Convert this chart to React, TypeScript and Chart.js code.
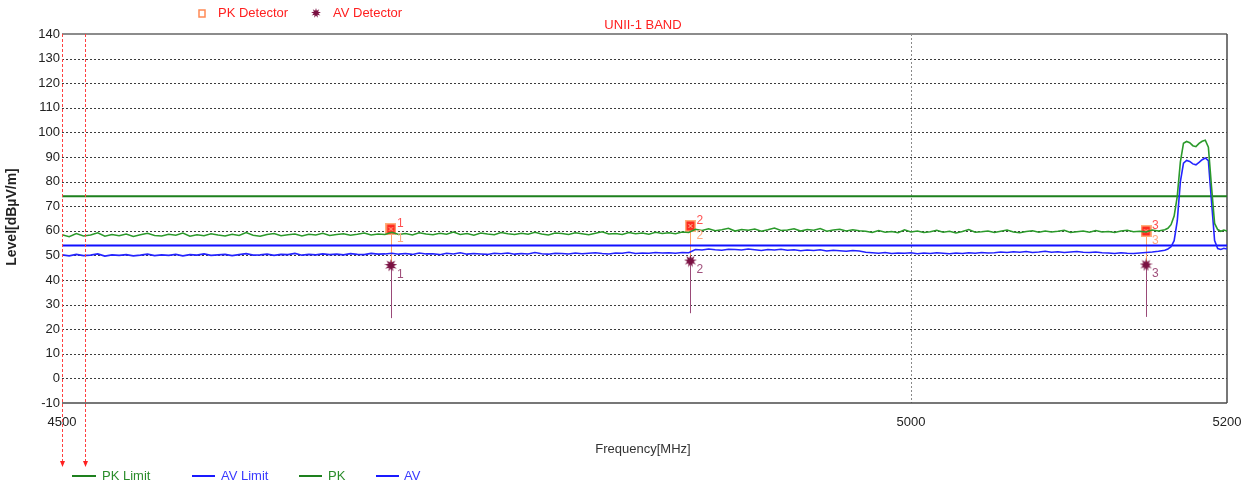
import React, { useEffect, useRef } from 'react';
import { Chart, registerables } from 'chart.js';

Chart.register(...registerables);

const FONT = '"Liberation Sans", Arial, sans-serif';

// Sweep frequencies (MHz)
const freqMHz = [
  4500, 4504, 4508, 4512, 4516, 4520, 4524, 4528, 4532, 4536,
  4540, 4544, 4548, 4552, 4556, 4560, 4564, 4568, 4572, 4576,
  4580, 4584, 4588, 4592, 4596, 4600, 4604, 4608, 4612, 4616,
  4620, 4624, 4628, 4632, 4636, 4640, 4644, 4648, 4652, 4656,
  4660, 4664, 4668, 4672, 4676, 4680, 4684, 4688, 4692, 4696,
  4700, 4704, 4708, 4712, 4716, 4720, 4724, 4728, 4732, 4736,
  4740, 4744, 4748, 4752, 4756, 4760, 4764, 4768, 4772, 4776,
  4780, 4784, 4788, 4792, 4796, 4800, 4804, 4808, 4812, 4816,
  4820, 4824, 4828, 4832, 4836, 4840, 4844, 4848, 4852, 4856,
  4860, 4864, 4868, 4872, 4876, 4880, 4884, 4888, 4892, 4896,
  4900, 4904, 4908, 4912, 4916, 4920, 4924, 4928, 4932, 4936,
  4940, 4944, 4948, 4952, 4956, 4960, 4964, 4968, 4972, 4976,
  4980, 4984, 4988, 4992, 4996, 5000, 5004, 5008, 5012, 5016,
  5020, 5024, 5028, 5032, 5036, 5040, 5044, 5048, 5052, 5056,
  5060, 5064, 5068, 5072, 5076, 5080, 5084, 5088, 5092, 5096,
  5100, 5104, 5108, 5112, 5116, 5120, 5124, 5128, 5132, 5136,
  5140, 5144, 5148, 5152, 5156, 5160,
  5162, 5164, 5166, 5168, 5170, 5172, 5174, 5176, 5178, 5180,
  5182, 5184, 5186, 5188, 5190, 5192, 5194, 5196, 5198, 5200,
];

// PK trace (dBµV/m)
const pkTrace = [
  58.4, 57.6, 58.9, 57.9, 58.3, 59.2, 57.8, 58.5, 58.0, 58.7,
  57.7, 58.4, 59.0, 58.1, 57.9, 58.6, 58.2, 59.1, 57.8, 58.4,
  58.0, 58.8, 58.3, 57.9, 58.6, 58.1, 59.3, 58.2, 57.8, 58.5,
  58.9, 58.0, 58.4, 58.7, 57.9, 58.6, 58.3, 59.0, 58.1, 58.5,
  58.8, 58.2, 58.6, 59.1, 58.3, 58.7, 58.5,
  59.4, 58.5, 58.9, 58.3, 59.2, 58.7, 58.4, 59.0, 58.6, 59.5,
  58.5, 58.9, 58.2, 59.1, 58.7, 58.4, 59.3, 58.8, 58.5, 59.0,
  58.6, 59.4, 58.7, 58.3, 59.1, 58.9, 58.5, 59.2, 58.8, 58.4,
  59.0, 59.6, 58.7, 58.9, 58.5, 59.3, 58.8, 59.1, 58.6, 59.4,
  58.9, 59.2, 58.8, 59.5, 59.3,
  60.6, 60.1, 60.8, 60.0, 60.4, 61.0, 59.9, 60.5, 60.2, 60.7,
  59.8, 60.4, 61.1, 60.1, 60.3, 60.8, 59.9, 60.5, 60.2, 60.9,
  59.8, 60.3, 60.6, 59.9, 60.4, 60.0,
  59.8, 59.3, 60.1, 59.4, 59.7, 59.2, 60.4, 59.5, 59.9, 59.3,
  59.6, 60.2, 59.4, 59.8, 59.1, 59.7, 60.5, 59.4, 59.6, 59.9,
  59.3, 59.8, 60.3, 59.5, 59.2, 59.7, 60.0, 59.4, 59.9, 59.5,
  59.8, 60.2, 59.3, 59.6, 59.9, 59.4, 60.1, 59.5, 59.7, 59.3,
  59.9, 60.2, 59.6, 59.8, 59.5, 60.3, 59.9, 60.4,
  61.0, 62.5, 66.0, 74.0, 88.0, 95.6, 96.3, 95.8, 94.6, 94.2,
  95.5, 96.4, 96.8, 94.0, 78.0, 63.0, 60.5, 59.8, 60.3, 59.9,
];

// AV trace (dBµV/m)
const avTrace = [
  50.2, 49.8, 50.4, 49.9, 50.1, 50.6, 49.7, 50.2, 50.0, 50.3,
  49.8, 50.1, 50.5, 49.9, 50.2, 50.0, 50.4, 49.8, 50.3, 50.1,
  50.6, 50.0, 50.2, 50.4, 49.9, 50.3, 50.7, 50.1, 50.2, 50.5,
  50.0, 50.4, 50.3, 50.8, 50.1, 50.4, 50.2, 50.6, 50.3, 50.5,
  50.2, 50.7, 50.4, 50.3, 50.8, 50.5, 50.6,
  50.9, 50.5, 50.8, 50.4, 51.0, 50.6, 50.7, 50.3, 50.9, 50.6,
  51.1, 50.5, 50.8, 50.6, 50.4, 50.9, 50.7, 51.0, 50.5, 50.8,
  50.6, 51.2, 50.7, 50.5, 50.9, 50.8, 50.6, 51.0, 50.7, 50.9,
  51.1, 50.8, 50.6, 51.0, 50.9, 51.3, 50.8, 51.0, 50.9, 51.2,
  51.0, 51.1, 50.9, 51.2, 51.1,
  52.4, 52.2, 52.6, 52.3, 52.1, 52.5, 52.4, 52.2, 52.6, 52.3,
  52.0, 52.4, 52.2, 52.5, 52.1, 52.3, 51.9, 52.2, 52.0, 52.3,
  51.8, 52.1, 51.9, 51.7, 52.0, 51.8,
  51.3, 51.1, 50.9, 51.2, 50.8, 51.0, 50.9, 51.1, 50.7, 51.0,
  50.8, 51.1, 50.9, 50.7, 51.0, 50.8, 51.1, 50.9, 51.2, 51.0, 51.1,
  51.4, 51.2, 51.5, 51.3, 51.6, 51.2, 51.4, 51.7, 51.3, 51.5,
  51.2, 51.4, 51.6, 51.3, 51.2, 51.4, 51.1,
  51.0, 50.8, 51.1, 50.9, 50.8, 51.0, 51.2, 51.4, 51.7, 52.1,
  52.6, 53.5, 56.0, 64.0, 80.0, 87.5, 88.6, 88.2, 87.2, 86.8,
  87.8, 88.9, 89.6, 88.5, 72.0, 56.0, 52.8, 52.4, 52.9, 52.6,
];

// Limits
const limitFreqs = [4500, 5200];
const pkLimitLevels = [74, 74];
const avLimitLevels = [54, 54];

// Markers
const markerIds = ['1', '2', '3'];
const markerFreqs = [4687.5, 4865, 5148];
const markerPk = [60.7, 62.0, 59.9];
const markerAv = [45.9, 47.7, 46.1];
const markerStemBottom = [24.5, 26.5, 25.0];

// Display lines (red dashed verticals)
const displayLineFreqs = [4500, 4513];

// Axes
const xTicks = [4500, 5000, 5200];
const yTicks = [-10, 0, 10, 20, 30, 40, 50, 60, 70, 80, 90, 100, 110, 120, 130, 140];

const zip = (xs: number[], ys: number[]) => {
  const n = Math.min(xs.length, ys.length);
  const out: { x: number; y: number }[] = [];
  for (let i = 0; i < n; i++) out.push({ x: xs[i], y: ys[i] });
  return out;
};

function makeStar(size: number, color: string) {
  const c = document.createElement('canvas');
  c.width = size;
  c.height = size;
  const g = c.getContext('2d')!;
  const cx = size / 2, cy = size / 2, rO = size / 2, rI = size / 4.2;
  const n = 9;
  g.beginPath();
  for (let k = 0; k < 2 * n; k++) {
    const r = k % 2 === 0 ? rO : rI;
    const a = (Math.PI * k) / n - Math.PI / 2;
    const px = cx + r * Math.cos(a);
    const py = cy + r * Math.sin(a);
    if (k === 0) g.moveTo(px, py);
    else g.lineTo(px, py);
  }
  g.closePath();
  g.fillStyle = color;
  g.fill();
  return c;
}

function makePkMarker() {
  const c = document.createElement('canvas');
  c.width = 11;
  c.height = 12;
  const g = c.getContext('2d')!;
  g.fillStyle = '#ffb07c';
  g.fillRect(0, 0, 11, 12);
  g.fillStyle = '#ff2a1e';
  g.fillRect(1.5, 1.5, 8, 9);
  g.strokeStyle = '#ffc8a8';
  g.lineWidth = 1;
  g.beginPath();
  g.moveTo(3.5, 4);
  g.lineTo(7.5, 8);
  g.moveTo(7.5, 4);
  g.lineTo(3.5, 8);
  g.stroke();
  return c;
}

function hLine(ctx: CanvasRenderingContext2D, x1: number, x2: number, y: number) {
  ctx.beginPath();
  ctx.moveTo(x1, y);
  ctx.lineTo(x2, y);
  ctx.stroke();
}
function vLine(ctx: CanvasRenderingContext2D, x: number, y1: number, y2: number) {
  ctx.beginPath();
  ctx.moveTo(x, y1);
  ctx.lineTo(x, y2);
  ctx.stroke();
}

const decorPlugin = {
  id: 'decor',
  beforeDatasetsDraw(chart: any) {
    const { ctx, chartArea, scales } = chart;
    const { left, right, top, bottom } = chartArea;
    const xs = scales.x, ys = scales.y;
    ctx.save();
    ctx.lineWidth = 1;
    ctx.strokeStyle = '#3c3c3c';
    ctx.setLineDash([2, 2]);
    for (const v of yTicks) {
      if (v === yTicks[0] || v === yTicks[yTicks.length - 1]) continue;
      const py = Math.round(ys.getPixelForValue(v)) + 0.5;
      hLine(ctx, left, right, py);
    }
    ctx.strokeStyle = '#8a8a8a';
    for (const f of xTicks) {
      if (f === xTicks[0] || f === xTicks[xTicks.length - 1]) continue;
      const px = Math.round(xs.getPixelForValue(f)) + 0.5;
      vLine(ctx, px, top, bottom);
    }
    ctx.setLineDash([]);
    ctx.strokeStyle = '#8c8c8c';
    ctx.lineWidth = 2;
    hLine(ctx, left, right, top);
    ctx.strokeStyle = '#4a4a4a';
    ctx.lineWidth = 1.5;
    hLine(ctx, left, right, bottom);
    vLine(ctx, right, top, bottom);
    for (let i = 0; i < markerFreqs.length; i++) {
      const px = Math.round(xs.getPixelForValue(markerFreqs[i])) + 0.5;
      ctx.lineWidth = 1;
      ctx.strokeStyle = '#ffa066';
      vLine(ctx, px, ys.getPixelForValue(markerPk[i]), ys.getPixelForValue(markerAv[i]));
      ctx.strokeStyle = '#9a4a78';
      vLine(ctx, px, ys.getPixelForValue(markerAv[i]), ys.getPixelForValue(markerStemBottom[i]));
    }
    ctx.restore();
  },
  afterDatasetsDraw(chart: any) {
    const { ctx, chartArea, scales } = chart;
    const { top } = chartArea;
    const xs = scales.x, ys = scales.y;
    ctx.save();
    ctx.strokeStyle = '#ff4040';
    ctx.fillStyle = '#ff2020';
    ctx.lineWidth = 1;
    for (const f of displayLineFreqs) {
      const px = Math.round(xs.getPixelForValue(f)) + 0.5;
      ctx.setLineDash([3, 2]);
      vLine(ctx, px, top, 461);
      ctx.setLineDash([]);
      ctx.beginPath();
      ctx.moveTo(px - 2.5, 461);
      ctx.lineTo(px + 2.5, 461);
      ctx.lineTo(px, 467);
      ctx.closePath();
      ctx.fill();
    }
    ctx.font = `12px ${FONT}`;
    ctx.textAlign = 'left';
    ctx.textBaseline = 'middle';
    for (let i = 0; i < markerFreqs.length; i++) {
      const px = xs.getPixelForValue(markerFreqs[i]);
      const pyP = ys.getPixelForValue(markerPk[i]);
      const pyA = ys.getPixelForValue(markerAv[i]);
      ctx.fillStyle = '#ff5050';
      ctx.fillText(markerIds[i], px + 6, pyP - 5);
      ctx.fillStyle = '#ffaa80';
      ctx.fillText(markerIds[i], px + 6, pyP + 10);
      ctx.fillStyle = '#a0507c';
      ctx.fillText(markerIds[i], px + 6, pyA + 9);
    }
    ctx.restore();
  },
  afterDraw(chart: any) {
    const { ctx } = chart;
    const star = chart.$legendStar;
    ctx.save();
    ctx.strokeStyle = '#ff8a55';
    ctx.lineWidth = 1.5;
    ctx.strokeRect(199, 10, 6, 7);
    if (star) ctx.drawImage(star, 311, 8);
    ctx.font = `13px ${FONT}`;
    ctx.textBaseline = 'middle';
    ctx.textAlign = 'left';
    ctx.fillStyle = '#ff2020';
    ctx.fillText('PK Detector', 218, 13);
    ctx.fillText('AV Detector', 333, 13);
    ctx.textAlign = 'center';
    ctx.fillText('UNII-1 BAND', 643, 25);
    ctx.fillStyle = '#333333';
    ctx.fillText('Frequency[MHz]', 643, 449);
    ctx.save();
    ctx.translate(12, 217);
    ctx.rotate(-Math.PI / 2);
    ctx.font = `bold 14px ${FONT}`;
    ctx.fillStyle = '#222222';
    ctx.fillText('Level[dBµV/m]', 0, 0);
    ctx.restore();
    const items = [
      { x1: 72, x2: 96, tx: 102, label: 'PK Limit', color: '#1e801e', text: '#2a8c2a' },
      { x1: 192, x2: 215, tx: 221, label: 'AV Limit', color: '#1a1aff', text: '#3a3aff' },
      { x1: 299, x2: 322, tx: 328, label: 'PK', color: '#1e801e', text: '#2a8c2a' },
      { x1: 376, x2: 399, tx: 404, label: 'AV', color: '#1a1aff', text: '#3a3aff' },
    ];
    ctx.textAlign = 'left';
    ctx.font = `13px ${FONT}`;
    for (const it of items) {
      ctx.strokeStyle = it.color;
      ctx.lineWidth = 2;
      hLine(ctx, it.x1, it.x2, 476);
      ctx.fillStyle = it.text;
      ctx.fillText(it.label, it.tx, 476);
    }
    ctx.restore();
  },
};

export default function App() {
  const ref = useRef<HTMLCanvasElement>(null);
  useEffect(() => {
    if (!ref.current) return;
    const avStar = makeStar(13, '#7a1042');
    const legendStar = makeStar(10, '#7a1042');
    const pkMark = makePkMarker();
    const chart = new Chart(ref.current, {
      type: 'line',
      data: {
        datasets: [
          { label: 'PK', data: zip(freqMHz, pkTrace), borderColor: '#2b9a2b', borderWidth: 1.6, pointRadius: 0, tension: 0 },
          { label: 'AV', data: zip(freqMHz, avTrace), borderColor: '#2424ff', borderWidth: 1.6, pointRadius: 0, tension: 0 },
          { label: 'PK Limit', data: zip(limitFreqs, pkLimitLevels), borderColor: '#1e801e', borderWidth: 2, pointRadius: 0 },
          { label: 'AV Limit', data: zip(limitFreqs, avLimitLevels), borderColor: '#1010ff', borderWidth: 2, pointRadius: 0 },
          { label: 'AV Detector', data: zip(markerFreqs, markerAv), showLine: false, pointStyle: avStar as any, pointRadius: 6 },
          { label: 'PK Detector', data: zip(markerFreqs, markerPk), showLine: false, pointStyle: pkMark as any, pointRadius: 6 },
        ],
      },
      options: {
        animation: false,
        responsive: false,
        layout: { padding: { top: 34, right: 23, bottom: 0, left: 0 } },
        plugins: {
          legend: { display: false },
          title: { display: false },
          tooltip: { enabled: false },
        },
        scales: {
          x: {
            type: 'logarithmic',
            min: 4500,
            max: 5200,
            afterBuildTicks: (s: any) => {
              s.ticks = xTicks.map((v) => ({ value: v }));
            },
            afterFit: (s: any) => {
              s.height = 84;
              s.paddingLeft = 0;
              s.paddingRight = 0;
            },
            grid: { display: false, drawTicks: false },
            border: { display: false },
            ticks: {
              autoSkip: false,
              maxRotation: 0,
              padding: 12,
              color: '#222222',
              font: { family: FONT, size: 13 },
              callback: (v: any) => String(v),
            },
          },
          y: {
            type: 'linear',
            min: -10,
            max: 140,
            afterBuildTicks: (s: any) => {
              s.ticks = yTicks.map((v) => ({ value: v }));
            },
            afterFit: (s: any) => {
              s.width = 62;
              s.paddingTop = 0;
              s.paddingBottom = 0;
            },
            grid: { display: false, drawTicks: false },
            border: { display: false },
            ticks: {
              autoSkip: false,
              padding: 2,
              color: '#222222',
              font: { family: FONT, size: 13 },
              callback: (v: any) => String(v),
            },
          },
        },
      },
      plugins: [decorPlugin],
    });
    (chart as any).$legendStar = legendStar;
    chart.draw();
    return () => chart.destroy();
  }, []);
  return (
    <div style={{ position: 'fixed', left: 0, top: 0, width: 1250, height: 487, background: '#fff' }}>
      <canvas ref={ref} width={1250} height={487} style={{ display: 'block' }} />
    </div>
  );
}
